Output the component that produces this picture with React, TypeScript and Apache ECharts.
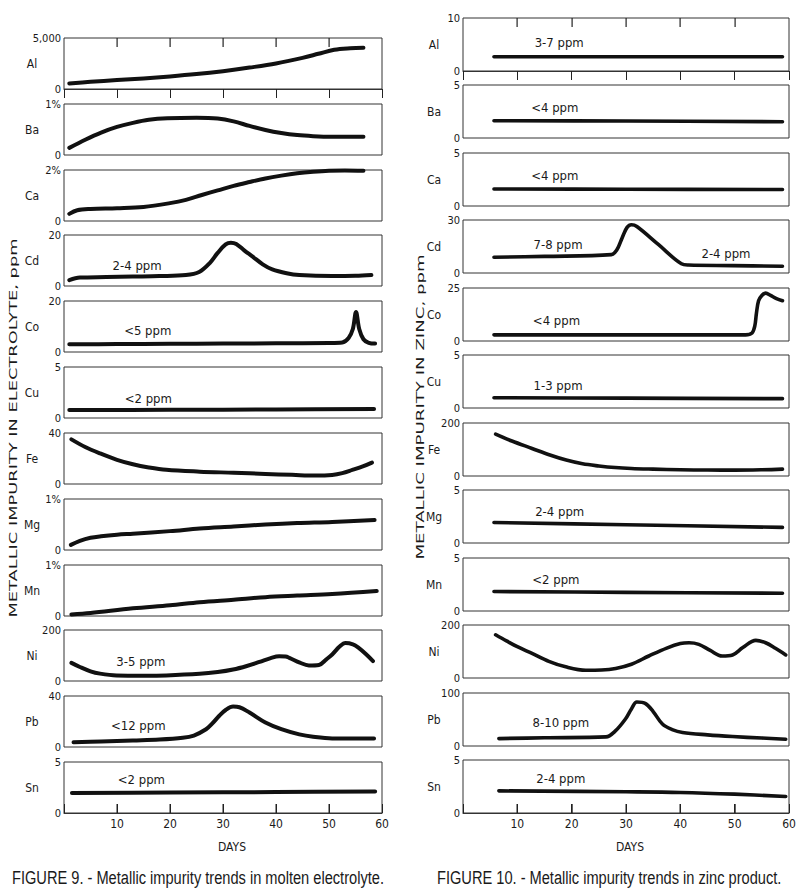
import React, { useEffect, useRef } from "react";
import * as echarts from "echarts";

type Pt = [number, number];

// ---------------- DATA: Figure 9 (molten electrolyte) ----------------
const elements = ["Al", "Ba", "Ca", "Cd", "Co", "Cu", "Fe", "Mg", "Mn", "Ni", "Pb", "Sn"];
const dayTicks = [10, 20, 30, 40, 50, 60];
const innerTickDays = [10, 20, 30, 40, 50];

const f9Max = [5000, 1, 2, 20, 20, 5, 40, 1, 1, 200, 40, 5];
const f9TopLabel = ["5,000", "1%", "2%", "20", "20", "5", "40", "1%", "1%", "200", "40", "5"];

const f9Al: Pt[] = [[1, 550], [5, 700], [10, 880], [15, 1040], [20, 1230], [25, 1460], [30, 1750], [35, 2100], [40, 2500], [45, 3050], [48, 3450], [51, 3850], [54, 4000], [56.5, 4050]];
const f9Ba: Pt[] = [[1, 0.14], [4, 0.3], [7, 0.44], [10, 0.55], [13, 0.63], [16, 0.69], [19.5, 0.72], [25, 0.73], [29, 0.715], [32, 0.66], [35, 0.57], [38, 0.49], [41, 0.43], [44, 0.39], [47, 0.37], [50.5, 0.36], [56.5, 0.36]];
const f9Ca: Pt[] = [[1, 0.28], [2.5, 0.42], [5, 0.47], [10, 0.5], [15, 0.55], [20, 0.7], [23, 0.83], [26, 1.02], [29, 1.2], [32, 1.38], [35, 1.53], [38, 1.67], [41, 1.78], [44, 1.87], [47, 1.93], [50, 1.97], [53, 1.98], [56.5, 1.97]];
const f9Cd: Pt[] = [[1, 2.3], [3, 3.3], [8, 3.5], [13, 3.7], [18, 3.9], [23, 4.3], [25.5, 5.5], [27.5, 9], [29, 13], [30.5, 16.3], [31.5, 17], [32.5, 16.5], [34, 14], [35.6, 11.5], [37.5, 8.5], [39.3, 6.5], [42, 5], [44.4, 4.3], [50.6, 3.9], [55, 4.0], [58, 4.3]];
const f9Co: Pt[] = [[1, 3.0], [10, 3.1], [20, 3.2], [30, 3.3], [40, 3.4], [50, 3.5], [52.5, 3.7], [53.7, 5.5], [54.5, 9], [55.1, 15.7], [55.7, 9], [56.5, 5], [57.5, 3.6], [58.7, 3.3]];
const f9Cu: Pt[] = [[1, 0.78], [20, 0.8], [40, 0.84], [58.5, 0.88]];
const f9Fe: Pt[] = [[1.4, 35], [4, 29], [6.8, 24], [10, 19], [13, 15.5], [16, 13], [19.3, 11.1], [25.6, 9.7], [32, 8.8], [38, 7.9], [43, 7.2], [47.5, 6.6], [50.6, 7.1], [52.5, 8.5], [54.4, 11], [56.5, 14], [58.1, 16.8]];
const f9Mg: Pt[] = [[1.3, 0.1], [3, 0.18], [5, 0.24], [7, 0.27], [10, 0.3], [13, 0.32], [20, 0.37], [25.6, 0.42], [32, 0.46], [38, 0.5], [44, 0.53], [50.6, 0.55], [58.6, 0.59]];
const f9Mn: Pt[] = [[1.4, 0.03], [5, 0.06], [13, 0.15], [20, 0.21], [25.6, 0.27], [32, 0.32], [38, 0.37], [44, 0.4], [50.6, 0.43], [59, 0.49]];
const f9Ni: Pt[] = [[1.4, 71], [3, 55], [5, 38], [6.8, 29], [9.9, 22], [15, 21], [19.3, 22], [25.6, 28], [29, 35], [31.9, 45], [34.5, 59], [36.9, 75], [39, 90], [40.6, 97], [41.8, 96], [42.5, 91], [44.5, 72], [46.2, 61], [48.1, 63], [49.5, 85], [50.6, 104], [52, 135], [53.1, 149], [54.5, 144], [55.6, 130], [57, 105], [58.3, 78]];
const f9Pb: Pt[] = [[1.8, 3.7], [7, 4.3], [13, 5.1], [18, 5.8], [22.4, 7.2], [24.5, 9], [26.8, 13.9], [28, 18.5], [29.3, 24.5], [30.5, 29], [31.9, 31.7], [33.1, 31.2], [35, 27], [38, 19.2], [41, 14], [44.4, 9.9], [47, 8], [50.6, 6.7], [58.5, 6.7]];
const f9Sn: Pt[] = [[1.5, 1.96], [20, 2.0], [40, 2.05], [58.7, 2.12]];

// annotations: [panel index, day, value, text]
const f9Notes: [number, number, number, string][] = [
  [3, 13.8, 8, "2-4 ppm"],
  [4, 15.8, 8.6, "<5 ppm"],
  [5, 15.9, 1.9, "<2 ppm"],
  [9, 14.5, 78, "3-5 ppm"],
  [10, 14, 16.8, "<12 ppm"],
  [11, 14.6, 3.3, "<2 ppm"],
];

// ---------------- DATA: Figure 10 (zinc product) ----------------
const f10Max = [10, 5, 5, 30, 25, 5, 200, 5, 5, 200, 100, 5];
const f10TopLabel = ["10", "5", "5", "30", "25", "5", "200", "5", "5", "200", "100", "5"];

const f10Al: Pt[] = [[5.7, 2.7], [30, 2.7], [58.8, 2.7]];
const f10Ba: Pt[] = [[5.7, 1.63], [30, 1.6], [58.8, 1.54]];
const f10Ca: Pt[] = [[5.7, 1.6], [30, 1.58], [58.8, 1.55]];
const f10Cd: Pt[] = [[5.7, 8.9], [15, 9.4], [27.3, 10.4], [28.3, 13], [29.3, 20], [30.2, 25.8], [31, 27.3], [32, 26.3], [36, 16], [40.2, 5.2], [41.5, 4.5], [49.6, 4.2], [58.8, 3.8]];
const f10Co: Pt[] = [[5.7, 2.9], [30, 2.9], [52, 2.9], [53.2, 3.8], [53.7, 7], [54, 13], [54.4, 19], [55, 21.5], [55.7, 22.6], [56.6, 21.5], [57.7, 20], [58.8, 19]];
const f10Cu: Pt[] = [[5.7, 0.97], [30, 0.93], [58.8, 0.88]];
const f10Fe: Pt[] = [[6, 158], [9, 132], [12.7, 104], [16, 79], [19, 60], [22, 46], [25, 38], [28, 32], [31, 28.5], [35, 26], [40, 23.5], [45, 22.5], [50, 22], [55, 23.5], [58.8, 26]];
const f10Mg: Pt[] = [[5.7, 1.94], [30, 1.72], [58.8, 1.47]];
const f10Mn: Pt[] = [[5.7, 1.84], [30, 1.76], [58.8, 1.68]];
const f10Ni: Pt[] = [[6, 163], [8, 140], [10, 118], [12.8, 92], [15.8, 63], [18.9, 42], [22.6, 29], [25.5, 30], [28.1, 36], [31, 52], [34.2, 83], [37.5, 113], [40, 130], [41.6, 133], [43.4, 127], [45.5, 104], [47.7, 83], [49.6, 87], [51.5, 115], [53.9, 142], [55.7, 133], [57.5, 112], [59.4, 87]];
const f10Pb: Pt[] = [[6.6, 14], [15, 15.5], [26.3, 17.2], [28, 28], [29.9, 51], [31, 70], [32, 83], [33.6, 80], [35, 65], [36.7, 41.4], [38.5, 31], [40.4, 25.5], [45, 21], [49.6, 17.8], [55, 15], [59.4, 12.7]];
const f10Sn: Pt[] = [[6.6, 2.09], [30, 2.0], [40, 1.94], [50, 1.78], [59.4, 1.56]];

const f10Notes: [number, number, number, string][] = [
  [0, 17.7, 5.4, "3-7 ppm"],
  [1, 16.9, 2.9, "<4 ppm"],
  [2, 16.9, 2.9, "<4 ppm"],
  [3, 17.5, 16.4, "7-8 ppm"],
  [3, 48.4, 11.3, "2-4 ppm"],
  [4, 17.2, 9.6, "<4 ppm"],
  [5, 17.5, 2.1, "1-3 ppm"],
  [7, 17.8, 3.0, "2-4 ppm"],
  [8, 17.1, 3.0, "<2 ppm"],
  [10, 18, 45, "8-10 ppm"],
  [11, 18, 3.3, "2-4 ppm"],
];

const f9Series = [f9Al, f9Ba, f9Ca, f9Cd, f9Co, f9Cu, f9Fe, f9Mg, f9Mn, f9Ni, f9Pb, f9Sn];
const f10Series = [f10Al, f10Ba, f10Ca, f10Cd, f10Co, f10Cu, f10Fe, f10Mg, f10Mn, f10Ni, f10Pb, f10Sn];

const caption9 = "FIGURE 9. - Metallic impurity trends in molten electrolyte.";
const caption10 = "FIGURE 10. - Metallic impurity trends in zinc product.";
const yTitle9 = "METALLIC IMPURITY IN ELECTROLYTE, ppm";
const yTitle10 = "METALLIC IMPURITY IN ZINC, ppm";
const xTitle = "DAYS";

// ---------------- LAYOUT ----------------
const FONT = "'DejaVu Sans Condensed', 'Liberation Sans Narrow', 'Liberation Sans', sans-serif";
const INK = "#1a1a1a";
const X_MAX = 60;

const figs = [
  { left: 64, width: 318, top0: 38, pitch: 65.82, h: 51, lw: 4, nameX: 32, series: f9Series, max: f9Max, top: f9TopLabel, notes: f9Notes },
  { left: 463, width: 326, top0: 18, pitch: 67.45, h: 53, lw: 3.6, nameX: 434, series: f10Series, max: f10Max, top: f10TopLabel, notes: f10Notes },
];

function buildOption() {
  const grid: any[] = [];
  const xAxis: any[] = [];
  const yAxis: any[] = [];
  const series: any[] = [];
  const graphic: any[] = [];

  figs.forEach((f, fi) => {
    elements.forEach((el, i) => {
      const idx = grid.length;
      const top = Math.round(f.top0 + f.pitch * i);
      const isTop = i === 0;
      const isBottom = i === elements.length - 1;
      const mx = f.max[i];
      const topLbl = f.top[i];
      grid.push({
        left: f.left, top, width: f.width, height: f.h,
        show: true, borderColor: "#333", borderWidth: 1, backgroundColor: "rgba(0,0,0,0)",
      });
      xAxis.push({
        gridIndex: idx, type: "value", min: 0, max: X_MAX, interval: 10,
        show: isTop || isBottom,
        position: isTop ? "top" : "bottom",
        axisLine: { show: true, lineStyle: { color: "#333", width: 1 } },
        axisTick: { show: true, inside: true, length: 9, lineStyle: { color: "#222", width: 1 } },
        axisLabel: {
          show: isBottom, margin: 5, fontSize: 12, color: INK, fontFamily: FONT,
          formatter: (v: number) => (dayTicks.includes(v) ? String(v) : ""),
        },
        splitLine: { show: false },
      });
      yAxis.push({
        gridIndex: idx, type: "value", min: 0, max: mx, interval: mx,
        axisLine: { show: false }, axisTick: { show: false }, splitLine: { show: false },
        axisLabel: {
          margin: 3, fontSize: 11, color: INK, fontFamily: FONT,
          formatter: (v: number) => (v === 0 ? "0" : v === mx ? topLbl : ""),
        },
      });
      const notes = f.notes.filter((n) => n[0] === i);
      series.push({
        type: "line", xAxisIndex: idx, yAxisIndex: idx,
        data: f.series[i], smooth: 0.35, symbol: "none", showSymbol: false,
        clip: false, silent: true,
        lineStyle: { color: "#111", width: f.lw, cap: "round", join: "round" },
      });
      if (notes.length) {
        series.push({
          type: "custom", xAxisIndex: idx, yAxisIndex: idx, silent: true, clip: false,
          data: notes.map((n) => [n[1], n[2]]),
          encode: { x: 0, y: 1 },
          renderItem: (params: any, api: any) => {
            const p = api.coord([api.value(0), api.value(1)]);
            const n = notes[params.dataIndex];
            return {
              type: "text", x: p[0], y: p[1],
              style: { text: n[3], fontSize: 13, fontFamily: FONT, fill: INK, align: "center", verticalAlign: "middle", textAlign: "center", textVerticalAlign: "middle" },
            };
          },
        });
      }
      // inward day ticks along the top of the first panel and the bottom of the last one
      if (isTop || isBottom) {
        const yEdge = isTop ? top : top + f.h;
        const dir = isTop ? 1 : -1;
        innerTickDays.forEach((d, k) => {
          const x = Math.round(f.left + (f.width * d) / X_MAX);
          graphic.push({
            type: "rect", id: `tick-${fi}-${i}-${k}`, silent: true, z: 1000,
            shape: { x: x - 0.5, y: dir > 0 ? yEdge : yEdge - 9, width: 1.2, height: 9 },
            style: { fill: "#222", stroke: null },
          });
        });
      }
      graphic.push({
        type: "text", id: `name-${fi}-${i}`, x: f.nameX, y: top + f.h / 2, silent: true,
        style: { text: el, fontSize: 12, fontFamily: FONT, fill: INK, align: "center", verticalAlign: "middle", textAlign: "center", textVerticalAlign: "middle" },
      });
    });
  });

  const txt = (id: string, text: string, x: number, y: number, o: any = {}) => ({
    type: "text", id, x, y, silent: true, rotation: o.rotation || 0, scaleX: o.scaleX || 1, scaleY: 1,
    style: {
      text, fontSize: o.fontSize || 12, fontFamily: o.fontFamily || FONT, fill: INK,
      align: o.align || "center", verticalAlign: "middle", textAlign: o.align || "center", textVerticalAlign: "middle",
    },
  });

  graphic.push(txt("days9", xTitle, 232, 847, { fontSize: 12 }));
  graphic.push(txt("days10", xTitle, 630, 847, { fontSize: 12 }));
  graphic.push(txt("yt9", yTitle9, 13, 428, { rotation: Math.PI / 2, fontSize: 11, fontFamily: "'DejaVu Sans', sans-serif", scaleX: 1.62 }));
  graphic.push(txt("yt10", yTitle10, 420, 407, { rotation: Math.PI / 2, fontSize: 11, fontFamily: "'DejaVu Sans', sans-serif", scaleX: 1.65 }));
  graphic.push(txt("cap9", caption9, 12, 878, { fontSize: 19, fontFamily: "'Liberation Sans', Arial, sans-serif", align: "left", scaleX: 0.77 }));
  graphic.push(txt("cap10", caption10, 437, 878, { fontSize: 19, fontFamily: "'Liberation Sans', Arial, sans-serif", align: "left", scaleX: 0.77 }));

  return {
    animation: false,
    backgroundColor: "#ffffff",
    grid, xAxis, yAxis, series,
    graphic: { elements: graphic },
  };
}

export default function App() {
  const ref = useRef<HTMLDivElement>(null);
  useEffect(() => {
    if (!ref.current) return;
    const chart = echarts.init(ref.current, undefined, { renderer: "svg" });
    chart.setOption(buildOption() as any);
    return () => chart.dispose();
  }, []);
  return (
    <div
      ref={ref}
      style={{ position: "fixed", left: 0, top: 0, width: 800, height: 896, background: "#fff" }}
    />
  );
}
